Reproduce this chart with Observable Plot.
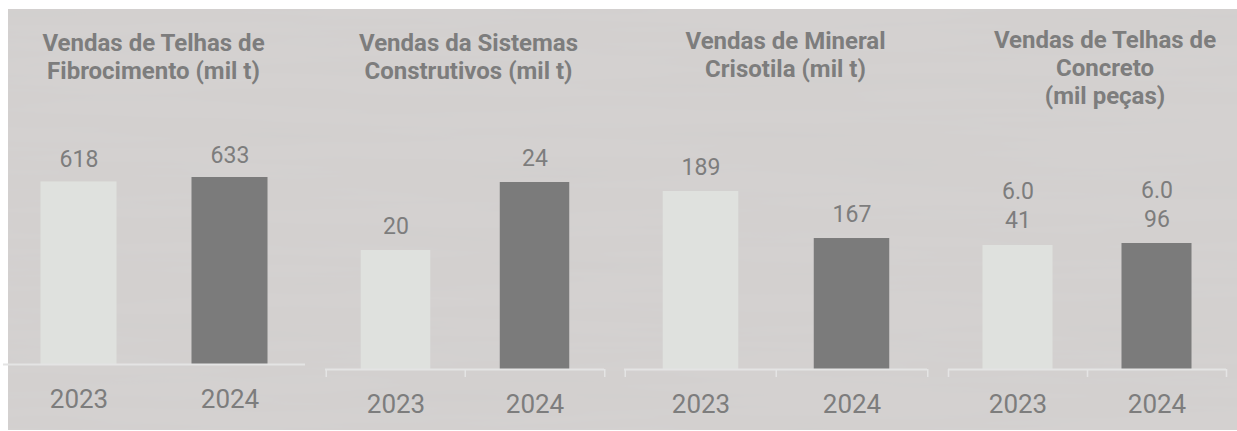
<!DOCTYPE html>
<html><head><meta charset="utf-8">
<script src="https://cdn.jsdelivr.net/npm/d3@7"></script>
<script src="https://cdn.jsdelivr.net/npm/@observablehq/plot@0.6"></script>
<style>
body{margin:0;background:#fff;}
#chart{position:relative;width:1237px;height:431px;font-family:Roboto,sans-serif;overflow:hidden;}
#bg{position:absolute;left:8px;top:9px;right:0;height:421px;background-color:#d5d2d1;
background-image:url("data:image/svg+xml;utf8,<svg xmlns='http://www.w3.org/2000/svg' width='1237' height='431'><filter id='n'><feTurbulence type='fractalNoise' baseFrequency='0.003 0.06' numOctaves='3' seed='4'/><feColorMatrix values='0 0 0 0 0.45 0 0 0 0 0.45 0 0 0 0 0.45 0.1 0 0 0 0'/></filter><rect width='100%' height='100%' filter='url(%23n)'/></svg>");}
.title{position:absolute;transform:translateX(-50%);text-align:center;font-weight:700;font-size:24px;line-height:28px;color:#7d7d7d;white-space:nowrap;}
</style></head><body>
<div id="chart"><div id="bg"></div></div>
<script>
// ---- data ----
const years = ["2023", "2024"];
const titles = [
  "Vendas de Telhas de\nFibrocimento (mil t)",
  "Vendas da Sistemas\nConstrutivos (mil t)",
  "Vendas de Mineral\nCrisotila (mil t)",
  "Vendas de Telhas de\nConcreto\n(mil peças)"
];
const fibrocimento = [618, 633];
const sistemas = [20, 24];
const crisotila = [189, 167];
const concreto = [6041, 6096];
const fibrocimentoLabels = ["618", "633"];
const sistemasLabels = ["20", "24"];
const crisotilaLabels = ["189", "167"];
const concretoLabels = ["6.0\n41", "6.0\n96"];

// ---- layout ----
const W = 1237, H = 431;
const textColor = "#7d7d7d";
const lightBar = "#dfe1de";
const darkBar = "#7b7b7b";
const axisColor = "#e4e4e4";

const panels = [
  {values: fibrocimento, labels: fibrocimentoLabels, left: 3, right: 305, base: 364, top: 177, ymin: 0, inset: 37.5, ticks: false, dy: -15, tx: 153.5, ty: 29},
  {values: sistemas, labels: sistemasLabels, left: 325, right: 604, base: 369, top: 182, ymin: 13, inset: 34.75, ticks: true, dy: -17, tx: 468.5, ty: 29},
  {values: crisotila, labels: crisotilaLabels, left: 624, right: 927, base: 369, top: 191, ymin: 105.7, inset: 37.75, ticks: true, dy: -17, tx: 785.5, ty: 27},
  {values: concreto, labels: concretoLabels, left: 948, right: 1226, base: 369, top: 243, ymin: 2630, inset: 34.5, ticks: true, dy: -17, tx: 1105, ty: 26}
];

const chart = document.getElementById("chart");

panels.forEach((p, i) => {
  const data = years.map((y, j) => ({year: y, value: p.values[j], label: p.labels[j]}));
  const step = (p.right - p.left) / years.length;
  const marks = [
    Plot.barY(data, {x: "year", y: "value", fill: "year", insetLeft: p.inset, insetRight: p.inset}),
    Plot.ruleY([p.ymin], {stroke: axisColor, strokeWidth: 2}),
    Plot.text(data, {x: "year", y: "value", text: "label", lineAnchor: "bottom", dy: p.dy, fontSize: 23, lineHeight: 29 / 23, fill: textColor}),
    Plot.axisX({label: null, tickSize: 0, tickPadding: 25, fontSize: 26, fill: textColor, stroke: "none"})
  ];
  if (p.ticks) {
    marks.push(Plot.axisX({label: null, tickSize: 8, tickFormat: () => "", stroke: axisColor, strokeWidth: 1.5, dx: -step / 2}));
    marks.push(Plot.axisX({label: null, ticks: [years[years.length - 1]], tickSize: 8, tickFormat: () => "", stroke: axisColor, strokeWidth: 1.5, dx: step / 2}));
  }
  const plot = Plot.plot({
    width: W, height: H,
    marginLeft: p.left, marginRight: W - p.right,
    marginTop: p.top, marginBottom: H - p.base,
    x: {type: "band", domain: years, padding: 0, axis: null, label: null},
    y: {domain: [p.ymin, Math.max(...p.values)], clamp: true, axis: null},
    color: {domain: years, range: [lightBar, darkBar]},
    style: {background: "transparent", fontFamily: "Roboto, sans-serif", overflow: "visible"},
    marks
  });
  plot.style.position = "absolute";
  plot.style.left = "0px";
  plot.style.top = "0px";
  chart.appendChild(plot);

  const t = document.createElement("div");
  t.className = "title";
  t.style.left = p.tx + "px";
  t.style.top = p.ty + "px";
  t.innerHTML = titles[i].split("\n").join("<br>");
  chart.appendChild(t);
});
</script>
</body></html>
